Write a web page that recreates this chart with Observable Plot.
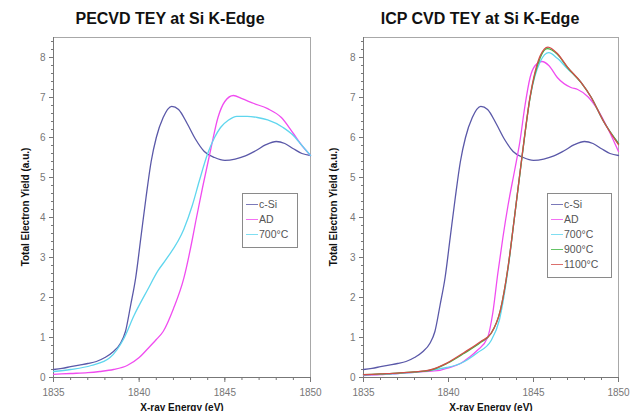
<!DOCTYPE html>
<html>
<head>
<meta charset="utf-8">
<script src="https://cdn.jsdelivr.net/npm/d3@7"></script>
<script src="https://cdn.jsdelivr.net/npm/@observablehq/plot@0.6"></script>
<style>
  body { margin: 0; background: #fff; }
  #wrap { position: relative; width: 633px; height: 411px; overflow: hidden; background: #fff;
          font-family: Arial, "Liberation Sans", sans-serif; }
  .panel { position: absolute; top: 0; }
  .title { position: absolute; top: 10px; font-weight: bold; font-size: 16px; color: #111;
           transform: translateX(-50%); white-space: nowrap; }
  .ylab { position: absolute; font-weight: bold; font-size: 10px; color: #111; white-space: nowrap;
          transform: translate(-50%, -50%) rotate(-90deg); }
  .xlab { position: absolute; font-weight: bold; font-size: 10px; color: #111; white-space: nowrap;
          transform: translate(-50%, -50%); }
  .legend { position: absolute; border: 1px solid #8a8a8a; background: #fff; box-sizing: border-box; }
  .legend .row { position: absolute; left: 3px; height: 12px; display: flex; align-items: center;
                 font-size: 10.5px; color: #555; white-space: nowrap; }
  .legend .sw { width: 12px; height: 0; border-top: 1.5px solid; margin-right: 1px; opacity: 0.8; }
</style>
</head>
<body>
<div id="wrap"></div>
<script>
// ---------- data ----------
const xTicks = [1835, 1840, 1845, 1850];
const yTicks = [0, 1, 2, 3, 4, 5, 6, 7, 8];
const seriesNamesPECVD = ["c-Si", "AD", "700°C"];
const seriesNamesICP = ["c-Si", "AD", "700°C", "900°C", "1100°C"];
const colors = {"c-Si": "#5a58a8", "AD": "#f04cf0", "700°C": "#5fd6ee", "900°C": "#3fb440", "1100°C": "#d24c48"};

// [energy eV, yield a.u.]
const cSi = [[1835,0.2],[1835.5,0.23],[1836,0.27],[1836.5,0.31],[1837,0.35],[1837.5,0.4],[1838,0.5],
  [1838.5,0.65],[1838.9,0.85],[1839.2,1.15],[1839.5,1.8],[1839.8,2.5],[1840.1,3.5],[1840.4,4.5],
  [1840.7,5.4],[1841,6.0],[1841.4,6.5],[1841.9,6.78],[1842.3,6.7],[1842.8,6.35],[1843.3,5.95],
  [1843.8,5.65],[1844.4,5.5],[1845,5.43],[1845.6,5.46],[1846.2,5.54],[1846.8,5.67],[1847.4,5.82],
  [1848,5.9],[1848.5,5.85],[1849,5.72],[1849.5,5.6],[1850,5.55]];

const pecvdAD = [[1835,0.08],[1836,0.1],[1837,0.12],[1837.7,0.15],[1838.5,0.2],[1839.3,0.3],[1840,0.5],
  [1840.5,0.72],[1841,0.95],[1841.4,1.15],[1842,1.72],[1842.6,2.47],[1843.1,3.45],[1843.3,3.9],
  [1843.7,4.75],[1844.2,5.75],[1844.6,6.5],[1845,6.9],[1845.5,7.05],[1846,6.97],[1846.7,6.85],
  [1847.5,6.72],[1848.3,6.5],[1849,6.1],[1849.5,5.8],[1850,5.55]];

const pecvd700 = [[1835,0.15],[1836,0.2],[1837.2,0.3],[1838.3,0.5],[1839.1,0.97],[1839.7,1.55],
  [1840.5,2.2],[1841.1,2.67],[1841.6,2.97],[1842.6,3.7],[1843.1,4.3],[1843.5,4.9],[1844,5.6],
  [1844.4,6.0],[1844.75,6.25],[1845.2,6.43],[1845.7,6.53],[1846.3,6.53],[1846.9,6.5],[1847.5,6.44],
  [1848.4,6.25],[1849,6.05],[1849.4,5.85],[1850,5.55]];

const icpAD = [[1835,0.05],[1836,0.07],[1837,0.1],[1838,0.13],[1839,0.16],[1839.5,0.18],[1840,0.24],
  [1840.7,0.35],[1841.2,0.5],[1841.7,0.68],[1842.3,1.0],[1842.6,1.6],[1842.9,2.6],[1843.2,3.5],
  [1843.5,4.3],[1843.9,5.2],[1844.2,5.9],[1844.5,6.8],[1844.8,7.5],[1845.1,7.8],[1845.5,7.9],
  [1845.9,7.8],[1846.4,7.5],[1847.2,7.25],[1847.6,7.2],[1848.2,7.02],[1848.8,6.68],[1849.4,6.2],
  [1850,5.65]];

const icp700 = [[1835,0.06],[1836,0.08],[1837,0.1],[1838,0.13],[1838.9,0.18],[1839.9,0.25],[1840.7,0.35],
  [1841.7,0.62],[1842.5,0.92],[1843,1.45],[1843.5,2.7],[1843.85,3.9],[1844.35,5.6],[1844.8,7.0],
  [1845.4,7.9],[1845.9,8.12],[1846.4,7.98],[1847,7.72],[1847.8,7.38],[1848.4,7.0],[1849.1,6.42],
  [1850,5.85]];

const icp900 = [[1835,0.07],[1836,0.09],[1837,0.11],[1838,0.14],[1838.9,0.18],[1839.9,0.35],[1840.9,0.6],
  [1841.9,0.88],[1842.5,1.1],[1843.05,1.68],[1843.5,2.75],[1843.85,3.9],[1844.35,5.6],[1844.8,7.0],
  [1845.4,8.0],[1845.8,8.22],[1846.4,8.08],[1847,7.75],[1847.8,7.37],[1848.4,7.0],[1849.1,6.42],
  [1850,5.85]];

const icp1100 = [[1835,0.07],[1836,0.09],[1837,0.11],[1838,0.14],[1838.9,0.19],[1839.9,0.36],[1840.9,0.62],
  [1841.9,0.9],[1842.5,1.1],[1843.05,1.68],[1843.5,2.75],[1843.85,3.9],[1844.35,5.62],[1844.8,7.02],
  [1845.4,8.05],[1845.85,8.26],[1846.4,8.1],[1847,7.76],[1847.8,7.38],[1848.4,7.0],[1849.1,6.42],
  [1850,5.82]];

// ---------- build ----------
const wrap = document.getElementById("wrap");
const minorX = d3.range(1835, 1851, 1);
const minorY = d3.range(0, 8.41, 0.2);

function panel(series, opts) {
  const marks = [
    Plot.frame({stroke: "#a8a8a8"}),
    Plot.axisX(minorX, {tickSize: 3, tickFormat: () => "", stroke: "#777", label: null}),
    Plot.axisX(xTicks, {tickSize: 5, tickPadding: 6, fontSize: 10, fill: "#777", stroke: "#777",
      tickFormat: d => String(d), label: null}),
    Plot.axisY(minorY, {tickSize: 2, tickFormat: () => "", stroke: "#777", label: null}),
    Plot.axisY(yTicks, {tickSize: 4, tickPadding: 4, fontSize: 10, fill: "#777", stroke: "#777",
      tickFormat: d => String(d), label: null}),
    Plot.ruleX([1835], {stroke: "#777"}),
    Plot.ruleY([0], {stroke: "#777"})
  ];
  for (const [name, data] of series) {
    marks.push(Plot.line(data, {x: d => d[0], y: d => d[1], stroke: colors[name],
      strokeWidth: 1.3, curve: "monotone-x"}));
  }
  return Plot.plot({
    width: opts.width, height: 411,
    marginLeft: opts.ml, marginRight: opts.mr, marginTop: 37, marginBottom: 34,
    x: {domain: [1835, 1850], label: null},
    y: {domain: [0, 8.5], label: null},
    style: {background: "transparent", fontFamily: "Arial, 'Liberation Sans', sans-serif"},
    marks
  });
}

function place(el, left) {
  const d = document.createElement("div");
  d.className = "panel"; d.style.left = left + "px";
  d.appendChild(el); wrap.appendChild(d);
}

place(panel([["c-Si", cSi], ["AD", pecvdAD], ["700°C", pecvd700]], {width: 330, ml: 53, mr: 20}), 0);
place(panel([["c-Si", cSi], ["AD", icpAD], ["700°C", icp700], ["900°C", icp900], ["1100°C", icp1100]],
  {width: 317, ml: 47, mr: 15}), 316);

function addText(cls, text, x, y) {
  const d = document.createElement("div");
  d.className = cls; d.textContent = text;
  d.style.left = x + "px";
  if (y !== undefined) d.style.top = y + "px";
  wrap.appendChild(d);
  return d;
}
addText("title", "PECVD TEY at Si K-Edge", 170);
addText("title", "ICP CVD TEY at Si K-Edge", 480);
addText("ylab", "Total Electron Yield (a.u.)", 25, 207);
addText("ylab", "Total Electron Yield (a.u.)", 333, 207);
addText("xlab", "X-ray Energy (eV)", 182, 407);
addText("xlab", "X-ray Energy (eV)", 491, 407);

function legend(names, left, top, w) {
  const box = document.createElement("div");
  box.className = "legend";
  box.style.left = left + "px"; box.style.top = top + "px";
  box.style.width = w + "px"; box.style.height = (names.length * 15 + 10) + "px";
  names.forEach((n, i) => {
    const r = document.createElement("div");
    r.className = "row"; r.style.top = (4 + i * 15) + "px";
    const s = document.createElement("span"); s.className = "sw"; s.style.borderTopColor = colors[n];
    const t = document.createElement("span"); t.textContent = n;
    r.appendChild(s); r.appendChild(t); box.appendChild(r);
  });
  wrap.appendChild(box);
}
legend(seriesNamesPECVD, 242, 193, 56);
legend(seriesNamesICP, 547, 193, 65);
</script>
</body>
</html>
